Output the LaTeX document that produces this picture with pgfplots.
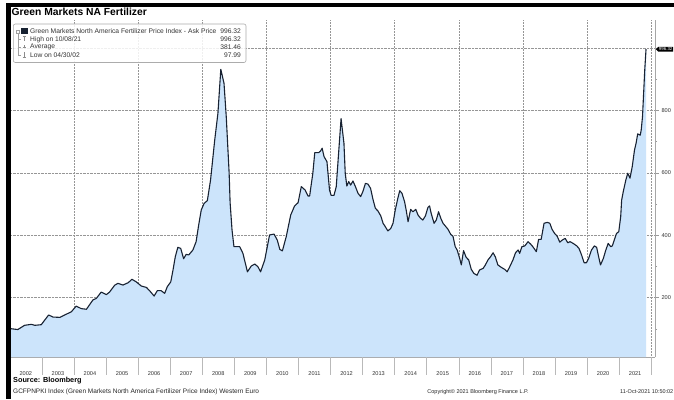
\documentclass[border=0pt]{standalone}
\usepackage{pgfplots}
\pgfplotsset{compat=1.18}
\usepackage{pgfplotstable}
\usepackage{fontspec}
\setmainfont{Liberation Sans}
\usetikzlibrary{shapes.symbols}
\definecolor{areablue}{RGB}{204,228,251}
\definecolor{linenavy}{RGB}{24,34,50}
\definecolor{gridgray}{RGB}{150,150,150}

\pgfplotstableread{
year val
2002.00 101
2002.04 100.6
2002.25 98
2002.46 111.5
2002.67 114.7
2002.78 111.5
2002.98 113.5
2003.21 144.6
2003.35 138
2003.56 137
2003.71 144.6
2003.92 155
2004.07 173
2004.23 165
2004.39 163
2004.59 192.6
2004.70 198
2004.85 218
2005.01 210
2005.11 218
2005.27 240
2005.37 246
2005.53 240.7
2005.69 248
2005.81 259
2005.94 251
2006.10 237.5
2006.26 233
2006.36 222.5
2006.50 205.4
2006.60 222.5
2006.72 222.5
2006.83 214
2006.91 235
2007.02 251
2007.09 289
2007.16 331
2007.24 361.5
2007.33 358
2007.42 325
2007.50 339
2007.58 337
2007.71 353
2007.81 379.5
2007.89 433
2007.97 481
2008.06 502.5
2008.16 511
2008.26 577
2008.39 705
2008.49 791
2008.58 932
2008.68 887
2008.75 780
2008.84 599
2008.87 505
2008.93 417
2008.99 363.5
2009.17 363.5
2009.27 342
2009.41 283
2009.53 301.6
2009.64 308
2009.74 299
2009.82 283
2009.95 321
2010.10 401
2010.24 404
2010.34 385
2010.42 355
2010.50 350
2010.62 395.5
2010.76 465
2010.88 494
2010.99 504.5
2011.09 556
2011.21 545
2011.30 526
2011.35 526
2011.45 599
2011.51 665
2011.63 665
2011.69 670
2011.74 679
2011.80 652
2011.89 636
2011.97 545
2012.02 528
2012.11 528
2012.18 556
2012.26 673
2012.33 774
2012.42 695
2012.46 599
2012.51 558
2012.57 572
2012.63 561
2012.70 574
2012.77 558
2012.86 534.5
2012.94 524
2013.01 540
2013.09 566.5
2013.17 564
2013.25 550.5
2013.33 513
2013.40 486.5
2013.48 478
2013.57 462
2013.64 438.5
2013.71 427.5
2013.79 414
2013.88 422
2013.95 438.5
2014.02 481
2014.10 518.5
2014.16 543
2014.23 534.5
2014.31 508
2014.36 481
2014.42 443.5
2014.50 483
2014.57 475.5
2014.66 483
2014.73 465
2014.81 454.5
2014.88 449
2014.96 462
2015.04 489.7
2015.09 494
2015.14 470.5
2015.23 438.5
2015.30 449
2015.37 475.5
2015.44 454.5
2015.51 438.5
2015.58 430
2015.66 420
2015.75 403
2015.82 397
2015.89 363.5
2015.95 353
2016.03 326
2016.08 305
2016.15 351
2016.23 329.5
2016.31 321
2016.39 291
2016.47 278
2016.57 272
2016.65 289
2016.76 294
2016.83 305
2016.91 321
2016.99 331
2017.07 344
2017.14 331
2017.22 305
2017.33 297
2017.43 291
2017.51 283
2017.58 297
2017.69 321
2017.77 344
2017.85 353
2017.90 342
2017.97 363.5
2018.06 366
2018.16 379.5
2018.24 372
2018.31 363.5
2018.42 347.5
2018.49 387
2018.57 387
2018.66 438.5
2018.76 441.5
2018.84 438.5
2018.91 419
2018.99 406
2019.07 397
2019.15 378
2019.23 385
2019.32 390
2019.40 376
2019.47 379.5
2019.57 374
2019.68 366
2019.75 358
2019.83 337
2019.91 312
2019.98 312
2020.05 326
2020.14 353
2020.23 366
2020.30 361.5
2020.35 337
2020.42 305
2020.51 326
2020.58 351
2020.66 374
2020.74 363.5
2020.79 366
2020.85 385
2020.92 406
2020.99 411.5
2021.05 460
2021.08 513
2021.13 540
2021.21 577
2021.27 599
2021.34 583
2021.41 620
2021.48 673
2021.53 695
2021.58 725
2021.66 721
2021.69 737.5
2021.73 780
2021.76 844
2021.80 930
2021.84 996.32
}\fert

\begin{document}
\begin{tikzpicture}
\useasboundingbox (0pt,0pt) rectangle (674pt,399pt);
\begin{scope}
\clip (0pt,0pt) rectangle (674pt,399pt);
\fill[white] (0pt,0pt) rectangle (674pt,399pt);
\begin{axis}[
  at={(9.8pt,42pt)}, anchor=south west,
  width=645.2pt, height=337pt, scale only axis,
  xmin=2002, xmax=2022.12, ymin=10, ymax=1090,
  axis x line*=bottom, axis y line*=right,
  axis line style={draw=gray!70, line width=0.5pt},
  clip=false,
  tick align=outside,
  major tick length=4pt, minor tick length=2pt,
  xtick={2002.5,2003.5,2004.5,2005.5,2006.5,2007.5,2008.5,2009.5,2010.5,2011.5,2012.5,2013.5,2014.5,2015.5,2016.5,2017.5,2018.5,2019.5,2020.5,2021.5},
  xticklabels={2002,2003,2004,2005,2006,2007,2008,2009,2010,2011,2012,2013,2014,2015,2016,2017,2018,2019,2020,2021},
  xtick style={draw=none},
  xticklabel style={font=\fontsize{5.6}{6}\selectfont, text=black!80, anchor=center, yshift=-13pt},
  extra x ticks={2004,2006,2008,2010,2012,2014,2016,2018,2020,2022},
  extra x tick labels={},
  extra x tick style={grid=major, major grid style={gridgray, densely dotted, line width=0.5pt}},
  ytick={200,400,600,800,1000},
  yticklabels={200,400,600,800,{}},
  minor ytick={100,300,500,700,900},
  ytick style={draw=gray!80, line width=0.6pt},
  yticklabel style={font=\fontsize{5.6}{6}\selectfont, text=black!80, anchor=west, xshift=-1pt},
  ymajorgrids, major grid style={gridgray, densely dotted, line width=0.5pt},
  /pgf/number format/assume math mode=true,
]
\addplot[draw=none, fill=areablue] table[x=year, y=val]{\fert} \closedcycle;
\addplot[linenavy, line width=1.1pt, line join=round] table[x=year, y=val]{\fert};
\pgfplotsinvokeforeach{2003,2004,2005,2006,2007,2008,2009,2010,2011,2012,2013,2014,2015,2016,2017,2018,2019,2020,2021,2022}{
  \draw[gray!55, line width=0.4pt] (axis cs:#1,10) -- (axis cs:#1,-47);
}
\node[signal, signal to=west, fill=black, text=white, font=\fontsize{4.4}{5}\selectfont, inner sep=0.8pt, anchor=west, xshift=0.5pt] at (axis cs:2022.12,996.32) {996.32};
\end{axis}

% legend box
\draw[gray!65, fill=white, fill opacity=0.85, rounded corners=2pt, line width=0.6pt] (13.3pt,375pt) rectangle (246pt,336.5pt);
\begin{scope}[font=\fontsize{6.7}{7}\selectfont, text=black!80]
\node[anchor=west, inner sep=0] at (30pt,367.5pt) {Green Markets North America Fertilizer Price Index - Ask Price};
\node[anchor=east, inner sep=0] at (241pt,367.5pt) {996.32};
\node[anchor=west, inner sep=0] at (30pt,359.5pt) {High on 10/08/21};
\node[anchor=east, inner sep=0] at (241pt,359.5pt) {996.32};
\node[anchor=west, inner sep=0] at (30pt,352pt) {Average};
\node[anchor=east, inner sep=0] at (241pt,352pt) {381.46};
\node[anchor=west, inner sep=0] at (30pt,344pt) {Low on 04/30/02};
\node[anchor=east, inner sep=0] at (241pt,344pt) {97.99};
\end{scope}
\draw[gray!75, line width=0.4pt] (16.5pt,366pt) rectangle (19.5pt,369pt);
\fill[linenavy] (21pt,364.5pt) rectangle (27.5pt,370.5pt);
\draw[gray!75, line width=0.4pt] (18pt,366pt) -- (18pt,344pt) (18pt,359.5pt) -- (21pt,359.5pt) (18pt,352pt) -- (21pt,352pt) (18pt,344pt) -- (21pt,344pt);
\draw[gray!90, line width=0.5pt] (22.5pt,362.5pt) -- (25.5pt,362.5pt) (24pt,362.5pt) -- (24pt,357.5pt);
\draw[gray!90, line width=0.5pt] (22.5pt,352pt) -- (25.5pt,352pt) (24pt,350.5pt) -- (24pt,353.5pt);
\draw[gray!90, line width=0.5pt] (22.5pt,341.8pt) -- (25.5pt,341.8pt) (24pt,341.8pt) -- (24pt,346.5pt);

% title
\node[anchor=west, inner sep=0, font=\bfseries\fontsize{10.3}{12}\selectfont] at (11.5pt,387pt) {Green Markets NA Fertilizer};

% footer
\node[anchor=west, inner sep=0, font=\bfseries\fontsize{7.3}{8}\selectfont] at (13pt,18pt) {Source: Bloomberg};
\node[anchor=west, inner sep=0, font=\fontsize{6.5}{7}\selectfont, text=black!85] at (13pt,7pt) {GCFPNPKI Index (Green Markets North America Fertilizer Price Index) Western Euro};
\node[inner sep=0, font=\fontsize{5.5}{6}\selectfont, text=black!85] at (478pt,7pt) {Copyright\textcopyright{} 2021 Bloomberg Finance L.P.};
\node[anchor=east, inner sep=0, font=\fontsize{5.5}{6}\selectfont, text=black!85] at (673.5pt,7pt) {11-Oct-2021 10:50:02};

% screenshot frame
\fill[black] (6pt,0pt) rectangle (11pt,396pt);
\fill[black] (6pt,392pt) rectangle (674pt,395.5pt);
\end{scope}
\end{tikzpicture}
\end{document}
